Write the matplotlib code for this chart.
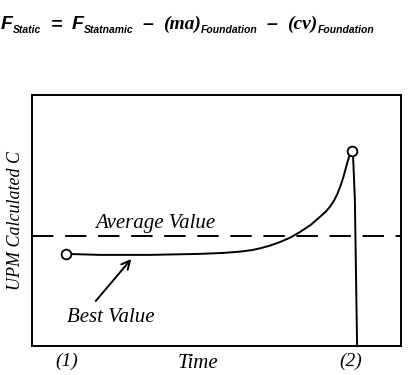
import matplotlib
matplotlib.use("Agg")
import matplotlib.pyplot as plt

# curve (time, UPM calculated C), both in 0..100 units
time = [9.2, 18.4, 32.0, 45.5, 52.0, 56.4, 59.5, 61.8, 64.5, 67.2, 70.0, 72.6, 75.5, 78.0, 79.6,
        80.8, 81.8, 82.7, 83.5, 84.3, 84.9, 85.4, 85.9, 86.2, 86.7, 87.0, 87.5, 88.1]
upm_c = [36.7, 36.3, 36.3, 36.7, 37.1, 37.6, 38.2, 38.9, 40.0, 41.4, 43.2, 45.4, 48.2, 51.4, 53.5,
         55.6, 57.8, 60.4, 63.4, 66.9, 70.0, 72.9, 75.2, 76.9, 77.7, 76.1, 58.2, 0.0]
start_pt = (9.2, 36.7)
peak_pt = (86.7, 77.7)
average_value = 43.8
best_tip = (27.4, 35.5)
best_tail = (16.8, 17.1)
tick_pos = [9.5, 86.5]
tick_labels = ["(1)", "(2)"]
# equation pieces: text, is subscript
equation = [("F", False), ("Static", True), ("=", False), ("F", False), ("Statnamic", True),
            ("\u2013", False), ("(ma)", False), ("Foundation", True), ("\u2013", False),
            ("(cv)", False), ("Foundation", True)]

W, H = 411, 375
fig = plt.figure(figsize=(W / 100, H / 100), dpi=100)
ax = fig.add_axes([32 / W, 29 / H, 369 / W, 251 / H])

ax.plot(time, upm_c, color='black', lw=1.4)
ax.plot(*start_pt, marker='o', ms=7, mfc='white', mec='black', mew=1.3)
ax.plot(*peak_pt, marker='o', ms=7, mfc='white', mec='black', mew=1.3)
ax.axhline(average_value, color='black', lw=1.4, dashes=(11, 6))

serif = dict(family='Liberation Serif', style='italic', color='black')
ax.text(17, average_value + 1.2, "Average Value", fontsize=15, ha='left', va='bottom', **serif)
ax.annotate("", xy=best_tip, xytext=best_tail,
            arrowprops=dict(arrowstyle='->', color='black', lw=1.4, mutation_scale=15))
ax.text(9.5, 11.5, "Best Value", fontsize=15, ha='left', va='center', **serif)

ax.set_xlim(0, 100)
ax.set_ylim(0, 100)
ax.set_xticks(tick_pos)
ax.set_xticklabels(tick_labels, fontsize=14, **serif)
ax.tick_params(axis='x', length=0, pad=5)
ax.set_yticks([])
ax.set_ylabel("UPM Calculated C", fontsize=13, labelpad=6, **serif)
ax.text(45, -3.0, "Time", fontsize=15, ha='center', va='top', **serif)
for s in ax.spines.values():
    s.set_linewidth(1.4)

# equation placed piece by piece
fig.canvas.draw()
r = fig.canvas.get_renderer()
x = 1
for i, (s, sub) in enumerate(equation):
    if sub:
        t = fig.text(x / W, 1 - 33 / H, s, fontsize=7.5, family='Liberation Sans',
                     weight='bold', style='italic', va='baseline')
    elif s.startswith("("):
        t = fig.text(x / W, 1 - 29 / H, s, fontsize=14, family='Liberation Serif',
                     weight='bold', style='italic', va='baseline')
    else:
        t = fig.text(x / W, 1 - 29 / H, s, fontsize=14, family='Liberation Sans',
                     weight='bold', style='italic', va='baseline')
    bb = t.get_window_extent(r)
    nxt = equation[i + 1][1] if i + 1 < len(equation) else False
    x = bb.x1 + (0 if nxt else 9.5)

fig.savefig("out.png", dpi=100)
